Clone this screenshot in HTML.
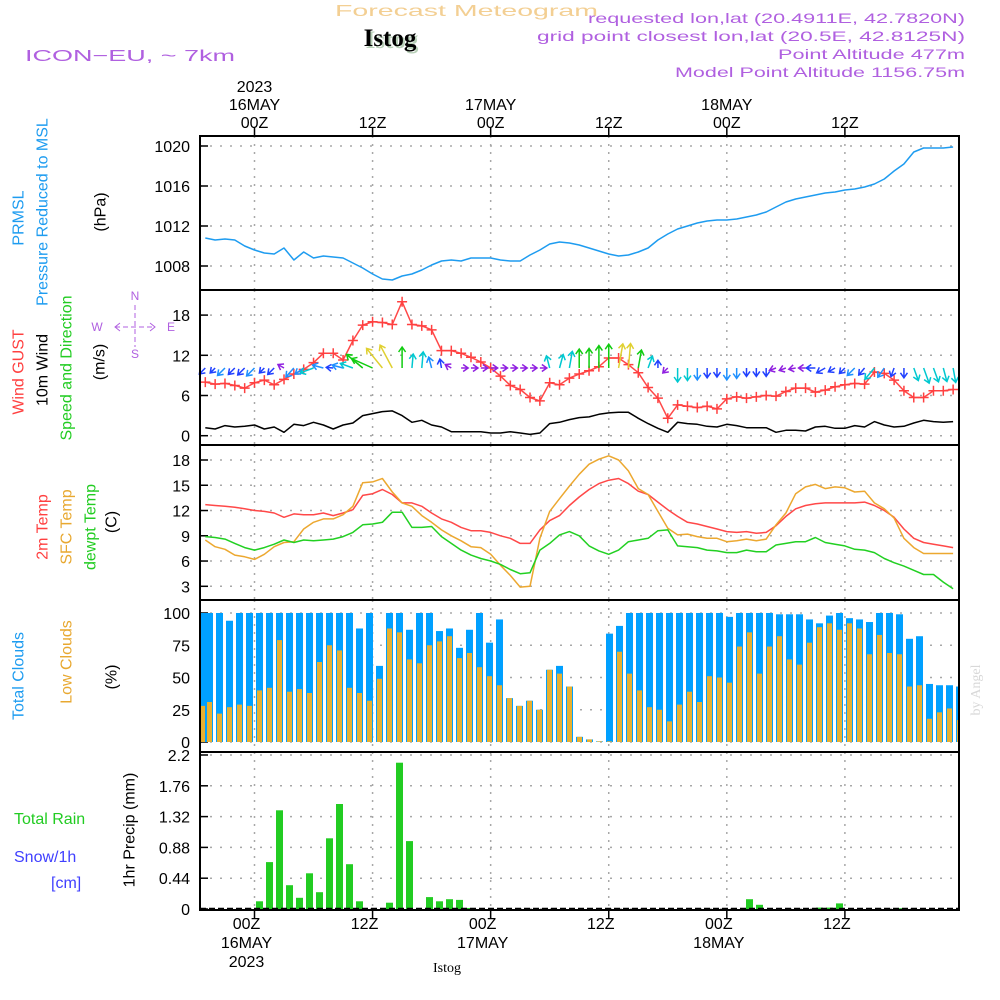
<!DOCTYPE html>
<html><head><meta charset="utf-8">
<style>
html,body{margin:0;padding:0;background:#fff;}
svg{display:block;font-family:"Liberation Sans",sans-serif;}
</style></head>
<body>
<svg id="chart" width="1000" height="1000" viewBox="0 0 1000 1000" xmlns="http://www.w3.org/2000/svg">
<rect x="0" y="0" width="1000" height="1000" fill="#fff"/>
<text x="335" y="16" font-size="16" fill="#f3cf93" textLength="263" lengthAdjust="spacingAndGlyphs">Forecast Meteogram</text>
<text x="392" y="48" text-anchor="middle" font-size="25" font-weight="bold" font-family="Liberation Serif, serif" fill="#b8d0b8">Istog</text>
<text x="390" y="46" text-anchor="middle" font-size="25" font-weight="bold" font-family="Liberation Serif, serif" fill="#000">Istog</text>
<g font-size="14" fill="#b060e0" lengthAdjust="spacingAndGlyphs">
<text x="588" y="23" textLength="377" lengthAdjust="spacingAndGlyphs">requested lon,lat (20.4911E, 42.7820N)</text>
<text x="537" y="41" textLength="428" lengthAdjust="spacingAndGlyphs">grid point closest lon,lat (20.5E, 42.8125N)</text>
<text x="778" y="59" textLength="187" lengthAdjust="spacingAndGlyphs">Point Altitude 477m</text>
<text x="675" y="77" textLength="290" lengthAdjust="spacingAndGlyphs">Model Point Altitude 1156.75m</text>
</g>
<text x="25" y="61" font-size="16" fill="#b060e0" textLength="210" lengthAdjust="spacingAndGlyphs">ICON−EU, ~ 7km</text>
<text transform="translate(980,690) rotate(-90)" text-anchor="middle" font-size="14" font-family="Liberation Serif, serif" fill="#d8d8d8">by Angel</text>

<g id="labels" font-size="16">
<text transform="translate(19,218) rotate(-90)" text-anchor="middle" dominant-baseline="central" fill="#1e9cf0">PRMSL</text>
<text transform="translate(43,212) rotate(-90)" text-anchor="middle" dominant-baseline="central" fill="#1e9cf0">Pressure Reduced to MSL</text>
<text transform="translate(101,212) rotate(-90)" text-anchor="middle" dominant-baseline="central" fill="#000">(hPa)</text>
<text transform="translate(19,372) rotate(-90)" text-anchor="middle" dominant-baseline="central" fill="#ff4040">Wind GUST</text>
<text transform="translate(43,370) rotate(-90)" text-anchor="middle" dominant-baseline="central" fill="#000">10m Wind</text>
<text transform="translate(67,368) rotate(-90)" text-anchor="middle" dominant-baseline="central" fill="#22cc22">Speed and Direction</text>
<text transform="translate(100,362) rotate(-90)" text-anchor="middle" dominant-baseline="central" fill="#000">(m/s)</text>
<text transform="translate(43,527) rotate(-90)" text-anchor="middle" dominant-baseline="central" fill="#ff4040">2m Temp</text>
<text transform="translate(67,527) rotate(-90)" text-anchor="middle" dominant-baseline="central" fill="#e8a830">SFC Temp</text>
<text transform="translate(91,527) rotate(-90)" text-anchor="middle" dominant-baseline="central" fill="#22cc22">dewpt Temp</text>
<text transform="translate(112,522) rotate(-90)" text-anchor="middle" dominant-baseline="central" fill="#000">(C)</text>
<text transform="translate(19,676) rotate(-90)" text-anchor="middle" dominant-baseline="central" fill="#1e9cf0">Total Clouds</text>
<text transform="translate(67,662) rotate(-90)" text-anchor="middle" dominant-baseline="central" fill="#e8a830">Low Clouds</text>
<text transform="translate(112,677) rotate(-90)" text-anchor="middle" dominant-baseline="central" fill="#000">(%)</text>
<text transform="translate(130,830) rotate(-90)" text-anchor="middle" dominant-baseline="central" fill="#000">1hr Precip (mm)</text>
<text x="14" y="824" fill="#22cc22">Total   Rain</text>
<text x="14" y="862" fill="#4040ff">Snow/1h</text>
<text x="51" y="888" fill="#4040ff">[cm]</text>
</g>
<g fill="#b060e0" stroke="#b060e0" font-size="12">
<text x="97" y="331" stroke="none" text-anchor="middle">W</text>
<text x="171" y="331" stroke="none" text-anchor="middle">E</text>
<text x="135" y="300" stroke="none" text-anchor="middle">N</text>
<text x="135" y="358" stroke="none" text-anchor="middle">S</text>
<line x1="115" y1="327" x2="155" y2="327" stroke-dasharray="5,3" stroke-width="1"/>
<line x1="135" y1="305" x2="135" y2="347" stroke-dasharray="5,3" stroke-width="1"/>
<polyline points="120,323 115,327 120,331" fill="none"/>
<polyline points="150,323 155,327 150,331" fill="none"/>
</g>
<g id="plot"></g>
</svg>
<script>
// ---- data (index i = hour from 16MAY 00Z minus 5) ----
const pressure = [1010.8,1010.6,1010.7,1010.6,1010.0,1009.6,1009.3,1009.2,1009.8,1008.6,1009.4,1008.8,1009.0,1008.9,1008.8,1008.3,1007.8,1007.2,1006.7,1006.6,1007.0,1007.2,1007.6,1008.1,1008.5,1008.6,1008.5,1008.8,1008.8,1008.8,1008.6,1008.5,1008.5,1009.1,1009.6,1010.2,1010.4,1010.3,1010.1,1009.8,1009.5,1009.2,1009.0,1009.1,1009.4,1009.8,1010.6,1011.2,1011.7,1012.0,1012.3,1012.5,1012.6,1012.6,1012.7,1012.9,1013.1,1013.4,1013.9,1014.4,1014.7,1014.9,1015.1,1015.3,1015.4,1015.6,1015.7,1015.9,1016.2,1016.7,1017.5,1018.2,1019.4,1019.8,1019.8,1019.8,1019.9];
const gust = [8.0,7.7,7.8,7.5,7.1,7.9,8.3,7.6,8.4,9.2,9.9,10.9,12.3,12.3,11.3,14.2,16.5,17.0,16.9,16.6,20.0,16.6,16.4,15.8,12.7,12.7,12.3,11.7,11.0,10.1,8.9,7.5,6.9,5.7,5.2,7.9,7.6,8.6,9.2,9.7,10.3,11.6,11.6,10.6,9.4,7.2,5.6,2.6,4.6,4.4,4.2,4.4,4.0,5.5,5.8,5.6,5.8,6.0,5.9,6.6,7.1,7.1,6.5,6.8,7.3,7.6,7.8,7.7,9.5,9.3,8.3,6.7,5.7,5.7,6.7,6.7,6.9];
const windSpeed = [1.2,1.0,1.5,1.3,1.4,1.6,1.0,1.3,0.5,1.7,1.5,2.0,1.6,1.0,1.6,1.9,3.0,3.3,3.6,3.7,3.0,2.0,2.3,1.6,1.3,0.6,0.6,0.6,0.6,0.4,0.4,0.6,0.4,0.2,0.4,1.8,2.0,2.4,2.7,2.8,3.2,3.4,3.5,3.5,2.6,1.8,1.1,0.5,2.0,1.8,1.7,1.4,1.3,1.7,1.5,1.2,1.2,1.2,0.5,0.8,0.8,0.7,1.3,1.4,1.1,1.1,1.5,1.3,2.1,1.6,1.3,1.4,1.9,2.3,2.1,2.0,2.1];
const windDir = [225,225,225,225,225,225,225,225,300,222,235,250,285,275,285,290,310,294,321,332,0,5,5,345,350,300,90,90,90,90,90,90,90,90,90,345,15,10,0,0,0,0,10,5,10,20,0,225,180,180,180,180,180,180,180,180,180,180,250,250,260,270,270,240,240,225,225,220,220,215,200,180,160,160,160,165,170];
const temp2m = [12.7,12.6,12.5,12.4,12.2,12.0,11.9,11.7,11.2,11.6,11.5,11.5,11.7,11.4,11.7,12.1,13.8,14.0,14.5,13.9,12.9,12.9,12.5,11.7,11.0,10.6,10.0,9.6,9.6,9.4,9.0,8.7,8.1,8.1,9.7,10.8,11.4,12.6,13.6,14.5,15.2,15.6,15.8,15.2,14.3,13.9,13.0,12.1,11.3,10.6,10.4,10.1,9.8,9.5,9.4,9.5,9.3,9.4,10.2,11.3,12.2,12.6,12.8,12.9,12.9,12.9,12.9,13.0,12.6,12.0,11.2,9.8,8.7,8.2,8.0,7.8,7.6];
const tempSfc = [8.5,7.7,7.4,6.7,6.5,6.2,6.8,7.7,8.2,8.3,9.8,10.6,11.0,11.0,11.5,12.5,15.3,15.4,15.8,14.2,12.9,12.5,11.4,10.6,9.7,9.0,8.4,7.7,7.6,6.8,5.5,4.3,2.9,3.0,8.7,11.9,13.4,14.9,16.3,17.5,18.1,18.5,18.0,16.7,14.6,13.9,11.9,9.9,9.1,9.2,8.9,8.7,8.7,8.3,8.4,8.6,8.4,8.6,10.3,11.7,14.0,14.8,15.1,14.6,14.8,14.7,14.2,14.3,12.9,12.2,11.1,8.7,7.6,6.9,6.9,6.9,6.9];
const dewpt = [8.9,8.8,8.6,8.1,7.6,7.3,7.6,8.0,8.5,8.2,8.5,8.4,8.5,8.6,8.9,9.4,10.3,10.4,10.6,11.8,11.8,10.0,10.0,10.1,8.9,8.1,7.3,6.7,6.3,6.0,5.6,5.0,4.5,4.6,7.3,8.1,9.1,9.5,9.0,7.8,7.2,6.8,7.3,8.3,8.5,8.7,9.6,9.7,7.8,7.7,7.6,7.3,7.2,7.0,7.0,7.3,7.1,7.1,7.9,8.1,8.3,8.3,8.8,8.2,8.0,7.8,7.4,7.3,7.0,6.3,5.8,5.4,4.9,4.4,4.4,3.5,2.7];
// ---- bar data (index k) ----
const cloudTotal = [100,100,100,94,100,100,100,100,100,100,100,100,100,100,100,100,88,100,59,100,100,87,100,100,86,88,73,87,100,77,95,34,28,32,25,56,59,43,4,2,0.5,84,90,100,100,100,100,100,100,100,100,100,100,97,100,100,100,100,99,99,99,95,92,98,100,96,95,93,100,100,99,80,82,45,44,44,43];
const cloudLow = [28,31,22,27,29,28,40,42,79,39,41,38,62,75,71,42,38,32,49,88,85,64,61,75,78,82,65,69,58,51,44,34,28,32,25,56,53,43,4,2,0.5,0.5,70,53,40,27,25,16,29,39,31,51,50,46,74,85,53,74,82,64,60,77,89,92,87,92,88,68,83,69,68,43,44,18,23,26,17];
const precip = [0,0,0,0,0,0,0.11,0.67,1.41,0.34,0.16,0.51,0.24,1.01,1.5,0.64,0.11,0,0,0.09,2.09,0.97,0,0.17,0.11,0.14,0.13,0.015,0,0,0,0,0,0,0,0,0,0,0,0,0,0,0,0,0,0,0,0,0,0,0,0,0,0,0,0.14,0.06,0,0,0,0,0,0.02,0.02,0.08,0,0,0,0,0,0.01,0,0,0,0,0,0];
// ---- ticks ----
const pTicks = [1020,1016,1012,1008];
const wTicks = [18,12,6,0];
const tTicks = [18,15,12,9,6,3];
const cTicks = [100,75,50,25,0];
const rTicks = [2.2,1.76,1.32,0.88,0.44,0];
const rTickLabels = ["2.2","1.76","1.32","0.88","0.44","0"];
const timeHours = [0,12,24,36,48,60];
const timeTop = ["00Z","12Z","00Z","12Z","00Z","12Z"];
const dateLabels = ["16MAY","","17MAY","","18MAY",""];

const NS = "http://www.w3.org/2000/svg";
const plot = document.getElementById('plot');
const L = 200, R = 959;
function mk(tag, attrs, parent){ const e=document.createElementNS(NS,tag); for(const k in attrs) e.setAttribute(k,attrs[k]); (parent||plot).appendChild(e); return e; }
const xh = h => 254.5 + 9.84*h;
const xi = i => xh(i-5);
const xb = k => 199.5 + 10*k;
const yP = p => 146 + (1020-p)*10;
const yW = v => 435.7 - v*6.7;
const yT = t => 460 + (18-t)*8.42;
const yC = c => 742 - c*1.29;
const yR = r => 909 - r*70;

const panels = [
  {name:'pressure-panel', top:136, bot:290, ticks:pTicks, labels:pTicks.map(String), y:yP},
  {name:'wind-panel', top:290, bot:445, ticks:wTicks, labels:wTicks.map(String), y:yW},
  {name:'temp-panel', top:445, bot:600, ticks:tTicks, labels:tTicks.map(String), y:yT},
  {name:'cloud-panel', top:600, bot:752, ticks:cTicks, labels:cTicks.map(String), y:yC},
  {name:'precip-panel', top:752, bot:910, ticks:rTicks, labels:rTickLabels, y:yR}
];
panels.forEach(p=>{
  const g = mk('g',{});
  
  
  p.ticks.forEach((t,j)=>{
    const y = p.y(t);
    const gl = mk('line',{x1:L,x2:R,y1:y,y2:y,stroke:'#a8a8a8','stroke-width':1.5,'stroke-dasharray':'2,8'},g);
    
    
    mk('line',{x1:L,x2:L+8,y1:y,y2:y,stroke:'#000','stroke-width':1.5},g);
    const tx = mk('text',{x:190,y:y+6,'text-anchor':'end','font-size':16,fill:'#000'},g);
    tx.textContent = p.labels[j];
    
    
  });
  timeHours.forEach(h=>{
    const vl = mk('line',{x1:xh(h),x2:xh(h),y1:p.top,y2:p.bot,stroke:'#a8a8a8','stroke-width':1.5,'stroke-dasharray':'2,6'},g);
    
    
  });
});

cloudTotal.forEach((c,k)=>{
  const x = xb(k);
  const r = mk('rect',{x:Math.max(L,x-3.5),y:yC(c),width:Math.min(7,Math.max(0,R-(x-3.5))),height:742-yC(c),fill:'#00a0ff'});
  
  
  const lo = cloudLow[k];
  const r2 = mk('rect',{x:Math.max(L,x-2.5),y:yC(lo),width:Math.min(5,Math.max(0,R-(x-2.5))),height:742-yC(lo),fill:'#e8b030'});
  
  
});
precip.forEach((r,k)=>{
  if(r<=0) return;
  const x = xb(k);
  const b = mk('rect',{x:x-3.5,y:yR(r),width:7,height:Math.max(1,909-yR(r)),fill:'#22cc22'});
  
  
});
mk('line',{x1:L,x2:R,y1:908.5,y2:908.5,stroke:'#000','stroke-width':1.5,'stroke-dasharray':'6,3'});

function line(arr, yf, color, name){
  const pts = arr.map((v,i)=>xi(i).toFixed(1)+','+yf(v).toFixed(1)).join(' ');
  const pl = mk('polyline',{points:pts,fill:'none',stroke:color,'stroke-width':1.5,'stroke-linejoin':'round'});
  
  
}
line(pressure, yP, '#1e9cf0', 'pressure-line');
line(windSpeed, yW, '#000', 'wind-speed-line');
line(gust, yW, '#ff4848', 'gust-line');
gust.forEach((v,i)=>{
  const x=xi(i), y=yW(v);
  const m = mk('path',{d:`M${x-5},${y}H${x+5}M${x},${y-5}V${y+5}`,stroke:'#ff4040','stroke-width':1.5});
  
  
});
line(temp2m, yT, '#ff4848', 't2m-line');
line(tempSfc, yT, '#eca830', 'sfc-temp-line');
line(dewpt, yT, '#22d022', 'dewpt-line');

function spdColor(s){
  if(s<0.9) return '#9020e0';
  if(s<1.45) return '#2040ff';
  if(s<1.75) return '#1e90ff';
  if(s<2.5) return '#00c8d0';
  if(s<3.45) return '#10cc10';
  return '#e0d030';
}
windSpeed.forEach((s,i)=>{
  const x0 = xi(i), y0 = 368;
  const len = Math.max(7, 7*s);
  const a = windDir[i]*Math.PI/180;
  const dx = Math.sin(a), dy = -Math.cos(a);
  const x1 = x0+dx*len, y1 = y0+dy*len;
  const hx1 = x1 - dx*5 + dy*3.5, hy1 = y1 - dy*5 - dx*3.5;
  const hx2 = x1 - dx*5 - dy*3.5, hy2 = y1 - dy*5 + dx*3.5;
  const c = spdColor(s);
  const ar = mk('path',{d:`M${x0},${y0}L${x1},${y1}M${hx1},${hy1}L${x1},${y1}L${hx2},${hy2}`,stroke:c,'stroke-width':1.5,fill:'none'});
  
  
});

[136,290,445,600,752].forEach(y=>{ mk('line',{x1:L,x2:R+1,y1:y,y2:y,stroke:'#000','stroke-width':2}); });
const fr = mk('rect',{x:L,y:136,width:R-L,height:774,fill:'none',stroke:'#000','stroke-width':2});



timeHours.forEach((h,j)=>{
  const x = xh(h);
  mk('line',{x1:x,x2:x,y1:128,y2:136,stroke:'#000','stroke-width':1.5});
  mk('line',{x1:x,x2:x,y1:910,y2:918,stroke:'#000','stroke-width':1.5});
  const t = mk('text',{x:x,y:128,'text-anchor':'middle','font-size':16,fill:'#000'});
  t.textContent = timeTop[j];
  
  
  const b = mk('text',{x:x-8,y:929,'text-anchor':'middle','font-size':16,fill:'#000'});
  b.textContent = timeTop[j];
  
  
  if(dateLabels[j]){
    const d = mk('text',{x:x,y:110,'text-anchor':'middle','font-size':16,fill:'#000'});
    d.textContent = dateLabels[j];
    
    
    const d2 = mk('text',{x:x-8,y:948,'text-anchor':'middle','font-size':16,fill:'#000'});
    d2.textContent = dateLabels[j];
    
    
  }
});
const y1 = mk('text',{x:xh(0),y:92,'text-anchor':'middle','font-size':16,fill:'#000'});
y1.textContent='2023';


const y2 = mk('text',{x:xh(0)-8,y:967,'text-anchor':'middle','font-size':16,fill:'#000'});
y2.textContent='2023';


const st = mk('text',{x:447,y:972,'text-anchor':'middle','font-size':14,'font-family':'Liberation Serif, serif',fill:'#000'});
st.textContent='Istog';


</script>
</body></html>
